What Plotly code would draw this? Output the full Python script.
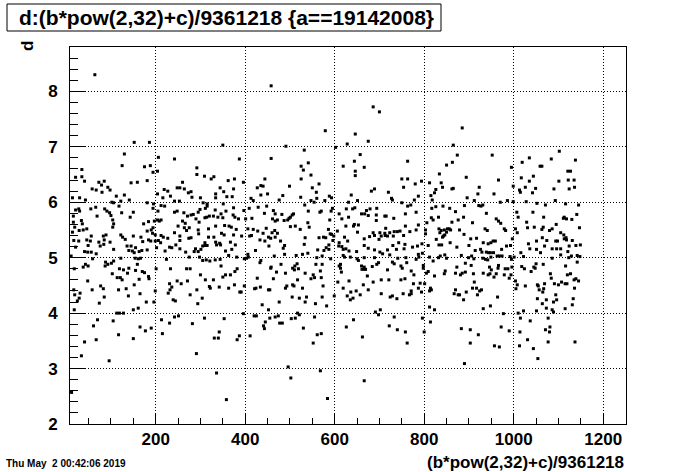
import plotly.graph_objects as go

# Data: (x = (b*pow(2,32)+c)/9361218, d)
outliers_high = [(64, 8.30), (458, 8.10), (686, 7.72), (700, 7.63), (885, 7.34)]

band_left_upper = [
(152,7.08),(186,7.08),(350,7.03),(130,6.87),(206,6.81),(242,6.78),(387,6.78),(125,6.66),(175,6.64),(188,6.66),
(292,6.62),(204,6.56),(194,6.54),(35,6.59),(21,6.45),(35,6.46),(41,6.38),(292,6.50),(309,6.47),(324,6.42),
(330,6.46),(376,6.42),(362,6.39),(73,6.36),(85,6.38),(79,6.31),(145,6.35),(159,6.36),(181,6.39),(260,6.36),
(58,6.24),(93,6.27),(98,6.22),(80,6.18),(67,6.22),(248,6.26),(254,6.26),(219,6.23),(227,6.20),(264,6.24),
(273,6.17),(279,6.19),(344,6.26),(352,6.19),(334,6.15),(374,6.24),(14,6.08),(30,6.08),(43,6.04),(112,6.11),
(130,6.13),(122,6.02),(141,6.04),(102,6.00),(106,5.99),(204,6.15),(216,6.08),(233,6.11),(242,6.02),(253,6.02),
(281,6.09),(300,6.08),(306,5.99),(334,6.08),(359,6.10),(371,6.10),(315,5.97),(351,5.97),(181,5.99),(195,5.97),
(212,5.94),(220,5.93),(21,5.86),(28,5.88),(30,5.84),(55,5.88),(66,5.91),(86,5.88),(91,5.84),(97,5.81),
(118,5.93),(150,5.82),(124,5.81),(194,5.89),(205,5.84),(242,5.82),(248,5.84),(263,5.81),(271,5.75),(279,5.77),
(284,5.78),(295,5.82),(299,5.87),(311,5.89),(315,5.93),(333,5.86),(346,5.79),(357,5.84),(374,5.90),(373,5.77),
(16,5.75),(69,5.75),(100,5.76),(104,5.68),(143,5.73),(16,5.64),(34,5.67),(106,5.61),(173,5.61),(184,5.65),
(197,5.66),(204,5.68),(208,5.66),(212,5.68),(260,5.66),(266,5.62),(290,5.70),(297,5.64),(310,5.72),(314,5.73),
(320,5.75),(329,5.75),(339,5.73),(350,5.72),(377,5.73),(385,5.70),(19,5.55),(29,5.49),(38,5.50),(46,5.52),
(36,5.61),(104,5.55),(181,5.48),(190,5.50),(194,5.54),(250,5.57),(264,5.54),(269,5.49),(275,5.54),(295,5.50),
(318,5.52),(334,5.57),(354,5.58),(364,5.57),(369,5.55),(380,5.51),(14,5.46),(56,5.39),(83,5.39),(89,5.41),
(122,5.41),(126,5.37),(150,5.39),(167,5.37),(193,5.44),(199,5.41),(212,5.40),(217,5.37),(227,5.35),(242,5.45),
(254,5.39),(274,5.35),(296,5.43),(318,5.37),(330,5.37),(347,5.44),(353,5.41),(374,5.41),(17,5.31),(28,5.30),
(46,5.32),(54,5.30),(73,5.28),(85,5.32),(98,5.28),(132,5.33),(171,5.29),(184,5.32),(189,5.30),(199,5.30),
(206,5.31),(211,5.27),(254,5.31),(279,5.36),(310,5.27),(334,5.28),(345,5.23),(367,5.28),(21,5.19),(49,5.22),
(76,5.21),(84,5.24),(136,5.21),(145,5.21),(155,5.18),(202,5.18),(231,5.19),(236,5.18),(245,5.23),(254,5.16),
(289,5.16),(305,5.21),(310,5.22),(315,5.22),(336,5.23),(343,5.26),(378,5.23),(41,5.11),(48,5.10),(56,5.10),
(67,5.07),(106,5.15),(140,5.13),(148,5.12),(152,5.09),(163,5.11),(169,5.13),(181,5.14),(221,5.12),(267,5.10),
(286,5.11),(295,5.11),(301,5.15),(356,5.12),(370,5.15),(11,5.03),(59,4.98),(88,4.92),(93,4.88),(101,4.90),
(106,4.94),(122,4.99),(154,4.99),(161,4.98),(166,4.99),(224,4.97),(275,5.01),(298,5.01),(305,4.95),(313,4.96),
(321,4.94),(333,4.96),(344,4.97),(363,5.04),(381,5.01),(38,4.83),(43,4.88),(49,4.85),(87,4.85),(159,4.88),
(346,4.85),
]

band_mid_upper = [
(579,7.29),(646,7.23),(675,7.10),(628,7.05),(491,7.01),(532,6.94),(602,6.99),(657,6.86),(458,6.79),(525,6.65),
(541,6.71),(619,6.65),(644,6.74),(666,6.63),(763,6.74),(530,6.58),(646,6.56),(646,6.48),(547,6.49),(525,6.42),
(565,6.33),(444,6.42),(396,6.36),(750,6.42),(763,6.42),(435,6.30),(440,6.29),(499,6.29),(550,6.26),(427,6.26),
(754,6.27),(559,6.18),(682,6.20),(689,6.24),(720,6.18),(484,6.12),(450,6.15),(435,6.13),(524,6.09),(588,6.11),
(637,6.13),(413,6.07),(418,6.03),(476,6.04),(547,6.03),(554,6.00),(560,6.07),(578,6.03),(593,6.08),(631,6.00),
(651,6.03),(727,6.07),(729,6.04),(750,5.99),(763,5.93),(770,5.95),(397,5.85),(409,5.89),(429,5.91),(448,5.93),
(463,5.85),(482,5.78),(501,5.73),(505,5.77),(508,5.79),(498,5.71),(495,5.68),(487,5.67),(472,5.68),(467,5.66),
(461,5.70),(533,5.95),(567,5.82),(570,5.84),(592,5.84),(595,5.89),(541,5.84),(610,5.79),(626,5.88),(640,5.88),
(645,5.90),(660,5.79),(667,5.79),(671,5.85),(679,5.88),(675,5.76),(693,5.77),(694,5.89),(712,5.75),(715,5.75),
(732,5.71),(758,5.79),(401,5.70),(415,5.71),(443,5.80),(467,5.79),(540,5.63),(543,5.55),(501,5.56),(512,5.57),
(589,5.68),(616,5.70),(631,5.73),(625,5.57),(642,5.57),(644,5.60),(653,5.59),(693,5.67),(714,5.53),(758,5.57),
(418,5.51),(406,5.52),(428,5.48),(447,5.53),(466,5.49),(460,5.45),(440,5.44),(410,5.39),(414,5.40),(392,5.39),
(433,5.32),(444,5.30),(452,5.37),(457,5.35),(467,5.37),(472,5.44),(479,5.30),(523,5.51),(534,5.36),(565,5.36),
(575,5.37),(580,5.36),(586,5.51),(590,5.43),(593,5.42),(598,5.39),(596,5.31),(606,5.48),(622,5.37),(629,5.30),
(651,5.46),(666,5.34),(678,5.38),(686,5.45),(689,5.40),(701,5.45),(699,5.33),(704,5.39),(712,5.44),(713,5.40),
(718,5.39),(723,5.45),(731,5.39),(733,5.47),(740,5.47),(746,5.48),(754,5.40),(768,5.47),(423,5.13),(453,5.21),
(485,5.17),(488,5.22),(532,5.24),(562,5.14),(576,5.13),(581,5.18),(587,5.15),(587,5.23),(609,5.21),(610,5.27),
(616,5.20),(619,5.15),(625,5.16),(632,5.12),(649,5.11),(666,5.22),(675,5.17),(689,5.14),(701,5.10),(718,5.14),
(730,5.22),(738,5.15),(743,5.27),(755,5.16),(757,5.24),(406,5.06),(403,4.99),(407,5.01),(398,4.98),(465,5.03),
(488,5.06),(514,5.04),(528,5.06),(540,5.08),(560,5.00),(572,5.03),(591,4.98),(619,5.04),(622,5.01),(635,5.01),
(650,4.98),(653,4.95),(666,5.00),(689,5.00),(707,5.07),(723,5.05),(741,4.99),(759,5.00),(433,4.91),(435,4.95),
(458,4.83),(480,4.88),(511,4.85),(516,4.89),(558,4.88),(572,4.88),(610,4.85),(613,4.88),(660,4.85),(666,4.83),
(684,4.84),(694,4.88),(698,4.91),(729,4.92),(733,4.89),(748,4.85),(761,4.91),
]

band_right_upper = [
(865,7.03),(874,6.85),(952,6.85),(850,6.67),(863,6.72),(834,6.51),(894,6.45),(1035,6.80),(1059,6.65),(1063,6.65),
(1084,6.78),(1102,6.92),(1138,6.76),(995,6.63),(1019,6.72),(1035,6.38),(1044,6.47),(1017,6.44),(966,6.40),(1121,6.56),
(1127,6.56),(1122,6.40),(1135,6.40),(1101,6.38),(780,6.33),(794,6.38),(812,6.35),(838,6.35),(826,6.23),(823,6.17),
(841,6.27),(862,6.24),(865,6.25),(923,6.27),(920,6.15),(956,6.15),(999,6.29),(1013,6.22),(1015,6.18),(1026,6.27),
(1049,6.25),(1042,6.17),(1090,6.24),(1124,6.24),(1136,6.27),(787,6.11),(815,6.12),(896,6.08),(912,6.03),(778,6.04),
(818,6.04),(826,5.92),(817,5.89),(842,5.93),(857,5.89),(870,5.83),(890,5.94),(922,5.94),(927,5.93),(931,5.95),
(939,5.80),(970,6.00),(986,6.03),(999,6.01),(1028,6.01),(1052,5.98),(1071,5.95),(1093,6.03),(1116,5.97),(1145,5.95),
(782,5.82),(816,5.72),(820,5.68),(832,5.73),(862,5.64),(876,5.68),(888,5.73),(908,5.63),(961,5.70),(966,5.66),
(971,5.62),(979,5.52),(1007,5.82),(1010,5.73),(1029,5.64),(1043,5.82),(1067,5.73),(1095,5.60),(1111,5.71),(1113,5.73),
(1118,5.70),(1130,5.69),(1141,5.78),(806,5.63),(787,5.59),(782,5.50),(803,5.50),(803,5.43),(833,5.52),(838,5.49),
(845,5.50),(852,5.52),(850,5.46),(846,5.41),(841,5.37),(835,5.45),(856,5.52),(859,5.50),(843,5.39),(879,5.50),
(889,5.42),(904,5.34),(917,5.35),(936,5.52),(941,5.49),(932,5.27),(949,5.27),(954,5.30),(959,5.30),(943,5.25),
(982,5.49),(997,5.34),(1004,5.52),(1008,5.45),(1031,5.54),(1046,5.55),(1051,5.30),(1063,5.51),(1064,5.36),(1066,5.55),
(1074,5.31),(1080,5.49),(1086,5.52),(1094,5.30),(1098,5.30),(1105,5.45),(1112,5.41),(1113,5.34),(1117,5.36),(1118,5.32),
(1131,5.31),(1147,5.54),(774,5.19),(785,5.21),(795,5.25),(809,5.22),(827,5.33),(833,5.23),(839,5.23),(858,5.27),
(873,5.19),(900,5.22),(914,5.13),(926,5.15),(929,5.10),(939,5.10),(944,5.09),(948,5.09),(955,5.09),(973,5.15),
(984,5.21),(993,5.22),(1016,5.09),(1033,5.25),(1036,5.16),(1051,5.15),(1069,5.21),(1086,5.16),(1096,5.16),(1105,5.16),
(1121,5.11),(1124,5.21),(1139,5.22),(1149,5.23),(788,5.01),(796,5.08),(787,5.06),(782,4.97),(798,4.86),(812,5.01),
(820,4.94),(832,5.00),(836,5.03),(846,5.05),(850,4.99),(883,5.04),(899,5.00),(906,5.03),(911,4.98),(931,4.99),
(937,4.97),(942,4.96),(949,5.01),(963,5.03),(968,5.03),(974,5.03),(992,5.02),(995,4.97),(1001,5.01),(1022,5.02),
(1060,5.09),(1086,4.99),(1105,5.05),(1123,5.00),(1129,5.03),(1142,5.04),(1148,5.02),(1116,4.85),(1142,4.92),(946,4.83),
(996,4.83),(1050,4.89),(1066,4.88),(1018,4.84),(1045,4.83),(873,4.83),(905,4.86),(966,4.86),(892,4.90),
]

band_left_lower = [
(119,4.80),(128,4.78),(140,4.81),(155,4.77),(137,4.72),(170,4.75),(175,4.73),(184,4.66),(185,4.62),(201,4.80),
(233,4.80),(269,4.80),(277,4.80),(300,4.69),(311,4.60),(329,4.60),(350,4.65),(356,4.69),(367,4.69),(377,4.75),
(382,4.80),(103,4.71),(114,4.64),(121,4.64),(125,4.60),(48,4.58),(18,4.80),(77,4.49),(83,4.44),(58,4.42),
(117,4.42),(134,4.44),(163,4.61),(152,4.51),(165,4.35),(231,4.53),(236,4.47),(232,4.42),(248,4.58),(257,4.53),
(271,4.58),(292,4.42),(320,4.48),(322,4.45),(342,4.47),(363,4.45),(376,4.51),(388,4.38),(228,4.36),(199,4.40),
(17,4.42),(31,4.36),(19,4.33),(29,4.27),(25,4.22),(85,4.29),(74,4.18),(139,4.31),(179,4.20),(196,4.20),
(277,4.33),(304,4.27),(294,4.17),(239,4.24),(244,4.22),(161,4.09),(150,4.06),(18,4.06),(113,4.00),(119,4.00),
(128,4.00),(213,3.88),(231,3.82),(242,3.93),(251,3.95),(309,3.91),(353,3.90),(70,3.88),(105,3.86),(61,3.77),
(165,3.75),(177,3.68),(190,3.73),(282,3.81),(215,3.63),(342,3.66),(331,3.55),(340,3.55),(387,3.59),(382,3.52),
(117,3.61),(150,3.54),(67,3.52),(41,3.48),(34,3.23),(96,3.14),(291,3.27),(336,2.92),(12,2.57),(358,2.44),
]

band_mid_lower = [
(457,4.81),(470,4.74),(490,4.72),(506,4.81),(510,4.78),(519,4.80),(534,4.72),(552,4.69),(555,4.64),(568,4.76),
(570,4.64),(613,4.81),(615,4.74),(661,4.79),(666,4.79),(669,4.79),(673,4.67),(718,4.78),(751,4.81),(427,4.63),
(463,4.62),(398,4.49),(391,4.38),(421,4.44),(424,4.45),(434,4.47),(452,4.42),(455,4.42),(490,4.45),(493,4.49),
(506,4.51),(509,4.49),(517,4.60),(528,4.45),(547,4.62),(574,4.49),(607,4.56),(619,4.45),(632,4.58),(628,4.31),
(636,4.38),(635,4.24),(648,4.40),(641,4.27),(657,4.33),(664,4.51),(675,4.42),(686,4.56),(704,4.60),(721,4.60),
(704,4.35),(724,4.29),(729,4.31),(739,4.26),(748,4.60),(757,4.62),(753,4.35),(767,4.33),(438,4.15),(476,4.20),
(505,4.29),(521,4.27),(534,4.20),(537,4.29),(557,4.17),(572,4.29),(582,4.13),(599,4.31),(396,3.99),(420,3.95),
(425,3.95),(452,4.06),(455,3.91),(467,3.93),(474,3.95),(445,3.84),(477,3.82),(483,3.82),(503,3.90),(512,3.91),
(517,4.00),(521,3.97),(555,3.93),(441,3.77),(443,3.72),(530,3.73),(561,3.61),(570,3.63),(552,3.46),(411,3.59),
(626,3.75),(642,3.88),(691,4.02),(698,3.97),(702,4.06),(733,3.93),(722,3.77),(740,3.70),(758,3.66),(762,3.46),
(662,3.57),(496,3.03),(502,2.83),(568,2.96),(666,2.78),(584,2.46),
]

band_right_lower = [
(771,4.76),(777,4.69),(798,4.81),(805,4.72),(809,4.75),(823,4.67),(845,4.71),(847,4.76),(870,4.72),(881,4.69),
(885,4.72),(892,4.74),(910,4.71),(932,4.72),(943,4.69),(947,4.71),(950,4.78),(956,4.65),(961,4.71),(965,4.81),
(979,4.69),(981,4.80),(987,4.80),(990,4.63),(994,4.69),(1024,4.80),(1048,4.81),(1039,4.75),(1082,4.71),(1084,4.63),
(1120,4.69),(1127,4.71),(1135,4.60),(1139,4.62),(1145,4.58),(776,4.53),(791,4.54),(801,4.53),(787,4.45),(771,4.40),
(771,4.35),(794,4.38),(812,4.40),(814,4.45),(816,4.42),(912,4.56),(908,4.45),(917,4.45),(924,4.40),(919,4.33),
(928,4.42),(870,4.42),(867,4.35),(876,4.33),(879,4.33),(894,4.38),(888,4.24),(964,4.29),(1004,4.58),(1008,4.51),
(1005,4.44),(1026,4.49),(1053,4.51),(1055,4.49),(1057,4.42),(1065,4.38),(1067,4.44),(1069,4.53),(1091,4.53),(1100,4.51),
(1107,4.56),(1094,4.33),(1089,4.20),(1096,4.24),(1115,4.53),(1119,4.53),(1136,4.45),(1133,4.26),(1131,4.15),(1053,4.26),
(1073,4.24),(1064,4.17),(812,4.11),(823,4.06),(932,4.08),(948,4.13),(977,3.99),(1010,4.00),(1022,4.04),(1051,4.04),
(1073,4.09),(1086,4.06),(1089,4.02),(1115,4.08),(796,3.91),(814,3.84),(800,3.66),(883,3.72),(903,3.70),(921,3.61),
(903,3.46),(972,3.75),(990,3.68),(1015,3.91),(1037,3.86),(1077,3.91),(1081,3.75),(1071,3.70),(1080,3.66),(1014,3.66),
(1031,3.52),(1013,3.41),(957,3.41),(968,3.39),(1044,3.36),(1054,3.18),(1077,3.48),(1137,3.48),(890,3.09),
]

groups = [outliers_high, band_left_upper, band_mid_upper, band_right_upper,
          band_left_lower, band_mid_lower, band_right_lower]
xs = [p[0] for g in groups for p in g]
ds = [p[1] for g in groups for p in g]

x_range = [8.5, 1251]
y_range = [2.0, 8.8]
x_tickvals = [200, 400, 600, 800, 1000, 1200]
y_tickvals = [2, 3, 4, 5, 6, 7, 8]

title_text = "d:(b*pow(2,32)+c)/9361218 {a==19142008}"
x_title = "(b*pow(2,32)+c)/9361218"
y_title = "d"
date_text = "Thu May  2 00:42:06 2019"

FONT = "Liberation Sans, Arial, Helvetica, sans-serif"

W, H = 696, 472
L, R, T, B = 70, 626, 47, 424   # frame edges in pixels


def px(xp):
    return (xp - L) / (R - L)


def py(yp):
    return (B - yp) / (B - T)


fig = go.Figure()
fig.add_trace(go.Scatter(
    x=xs, y=ds, mode="markers",
    marker=dict(symbol="square", size=3, color="black", line=dict(width=0)),
    hoverinfo="skip", showlegend=False,
))

axis_common = dict(
    showline=True, mirror=True, linecolor="black", linewidth=1,
    ticks="inside", tickcolor="black", tickwidth=1,
    showgrid=True, gridcolor="black", griddash="1px,2px", gridwidth=1,
    zeroline=False,
    tickfont=dict(family=FONT, size=17, color="black", weight="bold"),
)

fig.update_xaxes(range=x_range, tickvals=x_tickvals, ticklen=11,
                 minor=dict(ticks="inside", ticklen=6, dtick=50, tick0=0, tickcolor="black", showgrid=False),
                 ticklabelstandoff=0, **axis_common)
fig.update_yaxes(range=y_range, tickvals=y_tickvals, ticklen=16,
                 minor=dict(ticks="inside", ticklen=8, dtick=0.2, tick0=2, tickcolor="black", showgrid=False),
                 ticklabelstandoff=8, **axis_common)

fig.update_layout(
    width=W, height=H,
    margin=dict(l=L, r=W - R, t=T, b=H - B),
    paper_bgcolor="white", plot_bgcolor="white",
    shapes=[dict(type="rect", xref="paper", yref="paper",
                 x0=px(7), x1=px(441), y0=py(31), y1=py(4),
                 line=dict(color="black", width=1), fillcolor="white", layer="above")],
    annotations=[
        dict(text=title_text, xref="paper", yref="paper", x=px(226), y=py(17.5),
             xanchor="center", yanchor="middle", showarrow=False,
             font=dict(family=FONT, size=21, color="black", weight="bold")),
        dict(text=x_title, xref="paper", yref="paper", x=1.0, y=py(462),
             xanchor="right", yanchor="middle", showarrow=False,
             font=dict(family=FONT, size=17, color="black", weight="bold")),
        dict(text=y_title, xref="paper", yref="paper", x=px(27), y=py(46),
             xanchor="center", yanchor="middle", showarrow=False, textangle=-90,
             font=dict(family=FONT, size=17, color="black", weight="bold")),
        dict(text=date_text, xref="paper", yref="paper", x=px(4), y=py(463),
             xanchor="left", yanchor="middle", showarrow=False,
             font=dict(family=FONT, size=10, color="black", weight="bold")),
    ],
)

fig.write_html("out.html", config={"displayModeBar": False},
               post_script="document.body.style.margin='0px';document.body.style.padding='0px';")
